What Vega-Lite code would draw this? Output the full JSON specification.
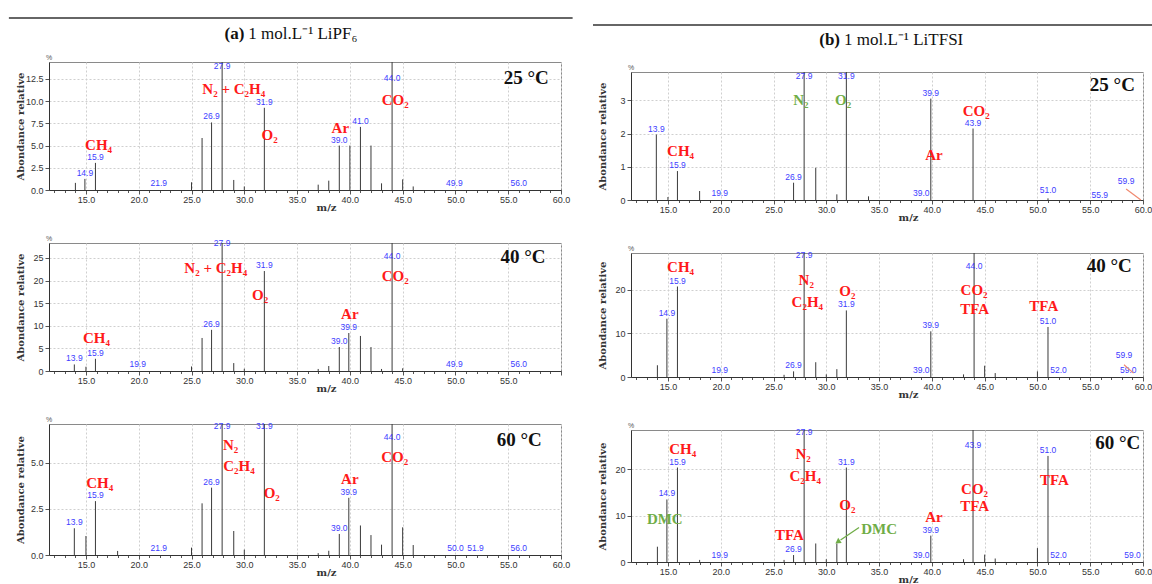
{
"$schema": "https://vega.github.io/schema/vega-lite/v6.json",
"padding": {"left": 8, "top": 5, "right": 0, "bottom": 0},
"autosize": {"type": "pad"},
"datasets": {
"h": [{"c":"a","lbl":"(a)","rest":"1 mol.L⁻¹ LiPF₆"},{"c":"b","lbl":"(b)","rest":"1 mol.L⁻¹ LiTFSI"}],
"d": [
{"p":"a25","t":"pk","mz":14,"ab":0.8},
{"p":"a25","t":"pk","mz":14.9,"ab":1.25},
{"p":"a25","t":"pk","mz":15.9,"ab":3.05},
{"p":"a25","t":"pk","mz":25,"ab":0.87},
{"p":"a25","t":"pk","mz":26,"ab":5.85},
{"p":"a25","t":"pk","mz":26.9,"ab":7.6},
{"p":"a25","t":"pk","mz":27.9,"ab":14.4},
{"p":"a25","t":"pk","mz":29,"ab":1.13},
{"p":"a25","t":"pk","mz":30,"ab":0.4},
{"p":"a25","t":"pk","mz":31.9,"ab":9.25},
{"p":"a25","t":"pk","mz":37,"ab":0.6},
{"p":"a25","t":"pk","mz":38,"ab":1.05},
{"p":"a25","t":"pk","mz":39,"ab":5.0},
{"p":"a25","t":"pk","mz":40,"ab":5.0},
{"p":"a25","t":"pk","mz":41,"ab":7.1},
{"p":"a25","t":"pk","mz":42,"ab":5.0},
{"p":"a25","t":"pk","mz":43,"ab":0.75},
{"p":"a25","t":"pk","mz":44,"ab":14.4},
{"p":"a25","t":"pk","mz":45,"ab":1.2},
{"p":"a25","t":"pk","mz":46,"ab":0.4},
{"p":"a25","t":"lb","mz":14.9,"ab":1.25,"lab":"14.9"},
{"p":"a25","t":"lb","mz":15.9,"ab":3.05,"lab":"15.9"},
{"p":"a25","t":"lb","mz":21.9,"ab":0.1,"lab":"21.9"},
{"p":"a25","t":"lb","mz":26.9,"ab":7.6,"lab":"26.9"},
{"p":"a25","t":"lb","mz":27.9,"ab":13.3,"lab":"27.9"},
{"p":"a25","t":"lb","mz":31.9,"ab":9.25,"lab":"31.9"},
{"p":"a25","t":"lb","mz":39,"ab":5.0,"lab":"39.0"},
{"p":"a25","t":"lb","mz":41,"ab":7.1,"lab":"41.0"},
{"p":"a25","t":"lb","mz":44,"ab":11.9,"lab":"44.0"},
{"p":"a25","t":"lb","mz":49.9,"ab":0.1,"lab":"49.9"},
{"p":"a25","t":"lb","mz":56,"ab":0.1,"lab":"56.0"},
{"p":"a25","t":"ann","mz":16.2,"ab":5.1,"txt":"CH₄","g":"r"},
{"p":"a25","t":"ann","mz":29.0,"ab":11.4,"txt":"N₂ + C₂H₄","g":"r"},
{"p":"a25","t":"ann","mz":32.4,"ab":6.15,"txt":"O₂","g":"r"},
{"p":"a25","t":"ann","mz":39.1,"ab":7.0,"txt":"Ar","g":"r"},
{"p":"a25","t":"ann","mz":44.3,"ab":10.1,"txt":"CO₂","g":"r"},
{"p":"a25","t":"tmp","mz":56.7,"ab":12.6,"txt":"25 °C"},
{"p":"a25","t":"pct","mz":11.5,"ab":14.4,"txt":"%"},

{"p":"a40","t":"pk","mz":13.9,"ab":1.45},
{"p":"a40","t":"pk","mz":15,"ab":0.95},
{"p":"a40","t":"pk","mz":15.9,"ab":2.7},
{"p":"a40","t":"pk","mz":25,"ab":1.0},
{"p":"a40","t":"pk","mz":26,"ab":7.3},
{"p":"a40","t":"pk","mz":26.9,"ab":9.1},
{"p":"a40","t":"pk","mz":27.9,"ab":28.3},
{"p":"a40","t":"pk","mz":29,"ab":1.75},
{"p":"a40","t":"pk","mz":30,"ab":0.5},
{"p":"a40","t":"pk","mz":31.9,"ab":22.1},
{"p":"a40","t":"pk","mz":37,"ab":0.45},
{"p":"a40","t":"pk","mz":38,"ab":1.1},
{"p":"a40","t":"pk","mz":39,"ab":5.3},
{"p":"a40","t":"pk","mz":39.9,"ab":8.4},
{"p":"a40","t":"pk","mz":41,"ab":7.75},
{"p":"a40","t":"pk","mz":42,"ab":5.3},
{"p":"a40","t":"pk","mz":43,"ab":0.45},
{"p":"a40","t":"pk","mz":44,"ab":28.3},
{"p":"a40","t":"pk","mz":45,"ab":0.6},
{"p":"a40","t":"lb","mz":13.9,"ab":1.45,"lab":"13.9"},
{"p":"a40","t":"lb","mz":15.9,"ab":2.7,"lab":"15.9"},
{"p":"a40","t":"lb","mz":19.9,"ab":0.2,"lab":"19.9"},
{"p":"a40","t":"lb","mz":26.9,"ab":9.1,"lab":"26.9"},
{"p":"a40","t":"lb","mz":27.9,"ab":26.9,"lab":"27.9"},
{"p":"a40","t":"lb","mz":31.9,"ab":22.1,"lab":"31.9"},
{"p":"a40","t":"lb","mz":39,"ab":5.3,"lab":"39.0"},
{"p":"a40","t":"lb","mz":39.9,"ab":8.4,"lab":"39.9"},
{"p":"a40","t":"lb","mz":44,"ab":24.2,"lab":"44.0"},
{"p":"a40","t":"lb","mz":49.9,"ab":0.2,"lab":"49.9"},
{"p":"a40","t":"lb","mz":56,"ab":0.2,"lab":"56.0"},
{"p":"a40","t":"ann","mz":16.0,"ab":7.2,"txt":"CH₄","g":"r"},
{"p":"a40","t":"ann","mz":27.3,"ab":22.8,"txt":"N₂ + C₂H₄","g":"r"},
{"p":"a40","t":"ann","mz":31.5,"ab":16.8,"txt":"O₂","g":"r"},
{"p":"a40","t":"ann","mz":40.0,"ab":12.5,"txt":"Ar","g":"r"},
{"p":"a40","t":"ann","mz":44.3,"ab":21.0,"txt":"CO₂","g":"r"},
{"p":"a40","t":"tmp","mz":56.4,"ab":25.3,"txt":"40 °C"},
{"p":"a40","t":"pct","mz":11.5,"ab":28.3,"txt":"%"},

{"p":"a60","t":"pk","mz":13.9,"ab":1.45},
{"p":"a60","t":"pk","mz":15,"ab":1.03},
{"p":"a60","t":"pk","mz":15.9,"ab":2.92},
{"p":"a60","t":"pk","mz":18,"ab":0.22},
{"p":"a60","t":"pk","mz":25,"ab":0.4},
{"p":"a60","t":"pk","mz":26,"ab":2.8},
{"p":"a60","t":"pk","mz":26.9,"ab":3.65},
{"p":"a60","t":"pk","mz":27.9,"ab":7.1},
{"p":"a60","t":"pk","mz":29,"ab":1.3},
{"p":"a60","t":"pk","mz":30,"ab":0.29},
{"p":"a60","t":"pk","mz":31.9,"ab":7.1},
{"p":"a60","t":"pk","mz":37,"ab":0.1},
{"p":"a60","t":"pk","mz":38,"ab":0.23},
{"p":"a60","t":"pk","mz":39,"ab":1.14},
{"p":"a60","t":"pk","mz":39.9,"ab":3.1},
{"p":"a60","t":"pk","mz":41,"ab":1.6},
{"p":"a60","t":"pk","mz":42,"ab":1.08},
{"p":"a60","t":"pk","mz":43,"ab":0.56},
{"p":"a60","t":"pk","mz":44,"ab":7.1},
{"p":"a60","t":"pk","mz":45,"ab":1.5},
{"p":"a60","t":"pk","mz":46,"ab":0.54},
{"p":"a60","t":"lb","mz":13.9,"ab":1.45,"lab":"13.9"},
{"p":"a60","t":"lb","mz":15.9,"ab":2.92,"lab":"15.9"},
{"p":"a60","t":"lb","mz":21.9,"ab":0.05,"lab":"21.9"},
{"p":"a60","t":"lb","mz":26.9,"ab":3.65,"lab":"26.9"},
{"p":"a60","t":"lb","mz":27.9,"ab":6.65,"lab":"27.9"},
{"p":"a60","t":"lb","mz":31.9,"ab":6.65,"lab":"31.9"},
{"p":"a60","t":"lb","mz":39,"ab":1.14,"lab":"39.0"},
{"p":"a60","t":"lb","mz":39.9,"ab":3.1,"lab":"39.9"},
{"p":"a60","t":"lb","mz":44,"ab":6.05,"lab":"44.0"},
{"p":"a60","t":"lb","mz":50,"ab":0.05,"lab":"50.0"},
{"p":"a60","t":"lb","mz":51.9,"ab":0.05,"lab":"51.9"},
{"p":"a60","t":"lb","mz":56,"ab":0.05,"lab":"56.0"},
{"p":"a60","t":"ann","mz":16.3,"ab":3.9,"txt":"CH₄","g":"r"},
{"p":"a60","t":"ann","mz":28.7,"ab":5.95,"txt":"N₂","g":"r"},
{"p":"a60","t":"ann","mz":29.5,"ab":4.8,"txt":"C₂H₄","g":"r"},
{"p":"a60","t":"ann","mz":32.6,"ab":3.35,"txt":"O₂","g":"r"},
{"p":"a60","t":"ann","mz":40.0,"ab":4.1,"txt":"Ar","g":"r"},
{"p":"a60","t":"ann","mz":44.25,"ab":5.3,"txt":"CO₂","g":"r"},
{"p":"a60","t":"tmp","mz":56.05,"ab":6.25,"txt":"60 °C"},
{"p":"a60","t":"pct","mz":11.5,"ab":7.1,"txt":"%"},

{"p":"b25","t":"pk","mz":13.9,"ab":1.97},
{"p":"b25","t":"pk","mz":15,"ab":0.09},
{"p":"b25","t":"pk","mz":15.9,"ab":0.87},
{"p":"b25","t":"pk","mz":18,"ab":0.27},
{"p":"b25","t":"pk","mz":26.9,"ab":0.52},
{"p":"b25","t":"pk","mz":27.9,"ab":3.85},
{"p":"b25","t":"pk","mz":29,"ab":0.97},
{"p":"b25","t":"pk","mz":31,"ab":0.17},
{"p":"b25","t":"pk","mz":31.9,"ab":3.85},
{"p":"b25","t":"pk","mz":34,"ab":0.11},
{"p":"b25","t":"pk","mz":39.9,"ab":3.05},
{"p":"b25","t":"pk","mz":43.9,"ab":2.15},
{"p":"b25","t":"pk","mz":51,"ab":0.05},
{"p":"b25","t":"lb","mz":13.9,"ab":1.97,"lab":"13.9"},
{"p":"b25","t":"lb","mz":15.9,"ab":0.87,"lab":"15.9"},
{"p":"b25","t":"lb","mz":19.9,"ab":0.03,"lab":"19.9"},
{"p":"b25","t":"lb","mz":26.9,"ab":0.52,"lab":"26.9"},
{"p":"b25","t":"lb","mz":27.9,"ab":3.55,"lab":"27.9"},
{"p":"b25","t":"lb","mz":31.9,"ab":3.55,"lab":"31.9"},
{"p":"b25","t":"lb","mz":39,"ab":0.03,"lab":"39.0"},
{"p":"b25","t":"lb","mz":39.9,"ab":3.05,"lab":"39.9"},
{"p":"b25","t":"lb","mz":43.9,"ab":2.15,"lab":"43.9"},
{"p":"b25","t":"lb","mz":51,"ab":0.12,"lab":"51.0"},
{"p":"b25","t":"lb","mz":55.9,"ab":-0.03,"lab":"55.9"},
{"p":"b25","t":"lb","mz":58.4,"ab":0.38,"lab":"59.9"},
{"p":"b25","t":"seg","mz":58.4,"ab":0.33,"mz2":59.8,"ab2":0,"g":"o"},
{"p":"b25","t":"ann","mz":16.2,"ab":1.47,"txt":"CH₄","g":"r"},
{"p":"b25","t":"ann","mz":27.6,"ab":3.02,"txt":"N₂","g":"g"},
{"p":"b25","t":"ann","mz":31.6,"ab":3.02,"txt":"O₂","g":"g"},
{"p":"b25","t":"ann","mz":40.2,"ab":1.35,"txt":"Ar","g":"r"},
{"p":"b25","t":"ann","mz":44.2,"ab":2.67,"txt":"CO₂","g":"r"},
{"p":"b25","t":"tmp","mz":57.1,"ab":3.47,"txt":"25 °C"},
{"p":"b25","t":"pct","mz":11.5,"ab":3.85,"txt":"%"},

{"p":"b40","t":"pk","mz":14,"ab":2.7},
{"p":"b40","t":"pk","mz":14.9,"ab":13.4},
{"p":"b40","t":"pk","mz":15.9,"ab":20.8},
{"p":"b40","t":"pk","mz":26,"ab":0.5},
{"p":"b40","t":"pk","mz":26.9,"ab":1.3},
{"p":"b40","t":"pk","mz":27.9,"ab":28.5},
{"p":"b40","t":"pk","mz":29,"ab":3.4},
{"p":"b40","t":"pk","mz":30,"ab":0.6},
{"p":"b40","t":"pk","mz":31,"ab":1.8},
{"p":"b40","t":"pk","mz":31.9,"ab":15.3},
{"p":"b40","t":"pk","mz":39.9,"ab":10.5},
{"p":"b40","t":"pk","mz":43,"ab":0.6},
{"p":"b40","t":"pk","mz":44,"ab":28.5},
{"p":"b40","t":"pk","mz":45,"ab":2.6},
{"p":"b40","t":"pk","mz":46,"ab":0.9},
{"p":"b40","t":"pk","mz":50,"ab":1.3},
{"p":"b40","t":"pk","mz":51,"ab":11.5},
{"p":"b40","t":"lb","mz":14.9,"ab":13.4,"lab":"14.9"},
{"p":"b40","t":"lb","mz":15.9,"ab":20.8,"lab":"15.9"},
{"p":"b40","t":"lb","mz":19.9,"ab":0.2,"lab":"19.9"},
{"p":"b40","t":"lb","mz":26.9,"ab":1.3,"lab":"26.9"},
{"p":"b40","t":"lb","mz":27.9,"ab":26.7,"lab":"27.9"},
{"p":"b40","t":"lb","mz":31.9,"ab":15.3,"lab":"31.9"},
{"p":"b40","t":"lb","mz":39,"ab":0.2,"lab":"39.0"},
{"p":"b40","t":"lb","mz":39.9,"ab":10.5,"lab":"39.9"},
{"p":"b40","t":"lb","mz":44,"ab":24.1,"lab":"44.0"},
{"p":"b40","t":"lb","mz":51,"ab":11.5,"lab":"51.0"},
{"p":"b40","t":"lb","mz":52,"ab":0.2,"lab":"52.0"},
{"p":"b40","t":"lb","mz":58.6,"ab":0.2,"lab":"59.0"},
{"p":"b40","t":"lb","mz":58.2,"ab":3.6,"lab":"59.9"},
{"p":"b40","t":"seg","mz":58.2,"ab":2.8,"mz2":59.1,"ab2":0.9,"g":"o"},
{"p":"b40","t":"ann","mz":16.2,"ab":25.3,"txt":"CH₄","g":"r"},
{"p":"b40","t":"ann","mz":28.1,"ab":22.3,"txt":"N₂","g":"r"},
{"p":"b40","t":"ann","mz":28.2,"ab":17.3,"txt":"C₂H₄","g":"r"},
{"p":"b40","t":"ann","mz":32.0,"ab":19.8,"txt":"O₂","g":"r"},
{"p":"b40","t":"ann","mz":44.0,"ab":20.1,"txt":"CO₂","g":"r"},
{"p":"b40","t":"ann","mz":44.05,"ab":15.6,"txt":"TFA","g":"r"},
{"p":"b40","t":"ann","mz":50.6,"ab":16.3,"txt":"TFA","g":"r"},
{"p":"b40","t":"tmp","mz":56.8,"ab":25.5,"txt":"40 °C"},
{"p":"b40","t":"pct","mz":11.5,"ab":28.5,"txt":"%"},

{"p":"b60","t":"pk","mz":14,"ab":3.3},
{"p":"b60","t":"pk","mz":14.9,"ab":13.5},
{"p":"b60","t":"pk","mz":15.9,"ab":20.4},
{"p":"b60","t":"pk","mz":18,"ab":0.45},
{"p":"b60","t":"pk","mz":26,"ab":0.45},
{"p":"b60","t":"pk","mz":26.9,"ab":1.5},
{"p":"b60","t":"pk","mz":27.9,"ab":28.5},
{"p":"b60","t":"pk","mz":29,"ab":4.0},
{"p":"b60","t":"pk","mz":30,"ab":0.6},
{"p":"b60","t":"pk","mz":31,"ab":4.0},
{"p":"b60","t":"pk","mz":31.9,"ab":20.4},
{"p":"b60","t":"pk","mz":39.9,"ab":5.7},
{"p":"b60","t":"pk","mz":43,"ab":0.6},
{"p":"b60","t":"pk","mz":43.9,"ab":28.5},
{"p":"b60","t":"pk","mz":45,"ab":1.6},
{"p":"b60","t":"pk","mz":46,"ab":0.75},
{"p":"b60","t":"pk","mz":50,"ab":3.0},
{"p":"b60","t":"pk","mz":51,"ab":22.9},
{"p":"b60","t":"lb","mz":14.9,"ab":13.5,"lab":"14.9"},
{"p":"b60","t":"lb","mz":15.9,"ab":20.4,"lab":"15.9"},
{"p":"b60","t":"lb","mz":19.9,"ab":0.2,"lab":"19.9"},
{"p":"b60","t":"lb","mz":26.9,"ab":1.5,"lab":"26.9"},
{"p":"b60","t":"lb","mz":27.9,"ab":26.7,"lab":"27.9"},
{"p":"b60","t":"lb","mz":31.9,"ab":20.4,"lab":"31.9"},
{"p":"b60","t":"lb","mz":39,"ab":0.2,"lab":"39.0"},
{"p":"b60","t":"lb","mz":39.9,"ab":5.7,"lab":"39.9"},
{"p":"b60","t":"lb","mz":43.9,"ab":24.0,"lab":"43.9"},
{"p":"b60","t":"lb","mz":51,"ab":22.9,"lab":"51.0"},
{"p":"b60","t":"lb","mz":52,"ab":0.2,"lab":"52.0"},
{"p":"b60","t":"lb","mz":59,"ab":0.2,"lab":"59.0"},
{"p":"b60","t":"seg","mz":33.1,"ab":7.45,"mz2":31.35,"ab2":4.75,"g":"g"},
{"p":"b60","t":"head","mz":31.15,"ab":4.45,"g":"g"},
{"p":"b60","t":"ann","mz":16.4,"ab":24.4,"txt":"CH₄","g":"r"},
{"p":"b60","t":"ann","mz":27.8,"ab":23.4,"txt":"N₂","g":"r"},
{"p":"b60","t":"ann","mz":28.0,"ab":18.6,"txt":"C₂H₄","g":"r"},
{"p":"b60","t":"ann","mz":32.0,"ab":12.2,"txt":"O₂","g":"r"},
{"p":"b60","t":"ann","mz":26.5,"ab":5.9,"txt":"TFA","g":"r"},
{"p":"b60","t":"ann","mz":14.7,"ab":9.35,"txt":"DMC","g":"g"},
{"p":"b60","t":"ann","mz":35.0,"ab":7.2,"txt":"DMC","g":"g"},
{"p":"b60","t":"ann","mz":40.2,"ab":9.7,"txt":"Ar","g":"r"},
{"p":"b60","t":"ann","mz":44.05,"ab":15.8,"txt":"CO₂","g":"r"},
{"p":"b60","t":"ann","mz":44.05,"ab":12.0,"txt":"TFA","g":"r"},
{"p":"b60","t":"ann","mz":51.6,"ab":17.7,"txt":"TFA","g":"r"},
{"p":"b60","t":"tmp","mz":57.6,"ab":25.7,"txt":"60 °C"},
{"p":"b60","t":"pct","mz":11.5,"ab":28.5,"txt":"%"}
]
},
"spacing": 18,
"hconcat": [
{"bounds": "flush", "spacing": 0, "vconcat": [
 {"width": 512, "height": 57, "view": {"stroke": null}, "data": {"name": "h"}, "transform": [{"filter": "datum.c === 'a'"}],
  "encoding": {"y": {"datum": 28, "scale": {"domain": [0, 57], "nice": false}, "axis": null}},
  "layer": [
   {"mark": {"type": "rule", "color": "#333", "strokeWidth": 1.3},
    "encoding": {"x": {"datum": 7.7, "scale": {"domain": [11.5, 60], "nice": false, "zero": false}, "axis": null}, "x2": {"datum": 61.1}, "y": {"datum": 44, "scale": {"domain": [0, 57], "nice": false}, "axis": null}}},
   {"mark": {"type": "text", "align": "right", "baseline": "middle", "font": "Liberation Serif", "fontWeight": "bold", "fontSize": 17, "color": "#111"},
    "encoding": {"x": {"datum": 30, "scale": {"domain": [11.5, 60], "nice": false, "zero": false}, "axis": null}, "text": {"field": "lbl"}}},
   {"mark": {"type": "text", "align": "left", "dx": 4, "baseline": "middle", "font": "Liberation Serif", "fontSize": 17, "color": "#111"},
    "encoding": {"x": {"datum": 30, "scale": {"domain": [11.5, 60], "nice": false, "zero": false}, "axis": null}, "text": {"field": "rest"}}}
  ]},
 {"bounds": "flush", "spacing": 53, "vconcat": [
  {"width": 512, "height": 128, "data": {"name": "d"}, "transform": [{"filter": "datum.p === 'a25'"}],
   "encoding": {"x": {"field": "mz", "type": "quantitative", "scale": {"domain": [11.5, 60], "nice": false, "zero": false},
      "axis": {"values": [12,13,14,15,16,17,18,19,20,21,22,23,24,25,26,27,28,29,30,31,32,33,34,35,36,37,38,39,40,41,42,43,44,45,46,47,48,49,50,51,52,53,54,55,56,57,58,59,60], "labelExpr": "datum.value % 5 === 0 ? format(datum.value, '.1f') : ''", "labelFlush": false, "labelOverlap": false, "labelPadding": 1, "tickSize": {"condition": {"test": "datum.value % 5 === 0", "value": 4}, "value": 2.5}, "grid": true, "gridOpacity": {"condition": {"test": "datum.value % 5 === 0", "value": 1}, "value": 0}, "title": "m/z", "titleX": 277, "titleY": 17, "titleBaseline": "middle"}},
     "y": {"field": "ab", "type": "quantitative", "scale": {"domain": [0, 14.4], "nice": false}, "axis": {"values": [0, 2.5, 5, 7.5, 10, 12.5], "format": ".1f", "tickSize": 4, "grid": true, "labelPadding": 2, "title": "Abondance relative", "titleX": -24}}},
   "layer": [
   {"transform": [{"filter": "datum.t === 'pk'"}], "mark": {"type": "rule", "color": "#3a3a3a", "strokeWidth": 1}, "encoding": {"y2": {"datum": 0}}},
   {"transform": [{"filter": "datum.t === 'lb'"}], "mark": {"type": "text", "baseline": "bottom", "dy": -1, "fontSize": 8.5, "color": "#3d3dff"}, "encoding": {"text": {"field": "lab"}}},
   {"transform": [{"filter": "datum.t === 'ann'"}], "mark": {"type": "text", "font": "Liberation Serif", "fontWeight": "bold", "fontSize": 15, "baseline": "middle"},
    "encoding": {"text": {"field": "txt"}, "color": {"field": "g", "type": "nominal", "scale": {"domain": ["r", "g", "o"], "range": ["#ff1a1a", "#70ad47", "#f08a70"]}, "legend": null}}},
   {"transform": [{"filter": "datum.t === 'tmp'"}], "mark": {"type": "text", "font": "Liberation Serif", "fontWeight": "bold", "fontSize": 19, "baseline": "middle", "color": "#111"}, "encoding": {"text": {"field": "txt"}}},
   {"transform": [{"filter": "datum.t === 'pct'"}], "mark": {"type": "text", "fontSize": 7, "baseline": "bottom", "dy": -1, "color": "#555"}, "encoding": {"text": {"field": "txt"}}}
  ]},
  {"width": 512, "height": 128, "data": {"name": "d"}, "transform": [{"filter": "datum.p === 'a40'"}],
   "encoding": {"x": {"field": "mz", "type": "quantitative", "scale": {"domain": [11.5, 60], "nice": false, "zero": false},
      "axis": {"values": [12,13,14,15,16,17,18,19,20,21,22,23,24,25,26,27,28,29,30,31,32,33,34,35,36,37,38,39,40,41,42,43,44,45,46,47,48,49,50,51,52,53,54,55,56,57,58,59,60], "labelExpr": "datum.value % 5 === 0 && datum.value < 60 ? format(datum.value, '.1f') : ''", "labelFlush": false, "labelOverlap": false, "labelPadding": 1, "tickSize": {"condition": {"test": "datum.value % 5 === 0", "value": 4}, "value": 2.5}, "grid": true, "gridOpacity": {"condition": {"test": "datum.value % 5 === 0", "value": 1}, "value": 0}, "title": "m/z", "titleX": 277, "titleY": 17, "titleBaseline": "middle"}},
     "y": {"field": "ab", "type": "quantitative", "scale": {"domain": [0, 28.3], "nice": false}, "axis": {"values": [0, 5, 10, 15, 20, 25], "format": "d", "tickSize": 4, "grid": true, "labelPadding": 2, "title": "Abondance relative", "titleX": -24}}},
   "layer": [
   {"transform": [{"filter": "datum.t === 'pk'"}], "mark": {"type": "rule", "color": "#3a3a3a", "strokeWidth": 1}, "encoding": {"y2": {"datum": 0}}},
   {"transform": [{"filter": "datum.t === 'lb'"}], "mark": {"type": "text", "baseline": "bottom", "dy": -1, "fontSize": 8.5, "color": "#3d3dff"}, "encoding": {"text": {"field": "lab"}}},
   {"transform": [{"filter": "datum.t === 'ann'"}], "mark": {"type": "text", "font": "Liberation Serif", "fontWeight": "bold", "fontSize": 15, "baseline": "middle"},
    "encoding": {"text": {"field": "txt"}, "color": {"field": "g", "type": "nominal", "scale": {"domain": ["r", "g", "o"], "range": ["#ff1a1a", "#70ad47", "#f08a70"]}, "legend": null}}},
   {"transform": [{"filter": "datum.t === 'tmp'"}], "mark": {"type": "text", "font": "Liberation Serif", "fontWeight": "bold", "fontSize": 19, "baseline": "middle", "color": "#111"}, "encoding": {"text": {"field": "txt"}}},
   {"transform": [{"filter": "datum.t === 'pct'"}], "mark": {"type": "text", "fontSize": 7, "baseline": "bottom", "dy": -1, "color": "#555"}, "encoding": {"text": {"field": "txt"}}}
  ]},
  {"width": 512, "height": 131, "data": {"name": "d"}, "transform": [{"filter": "datum.p === 'a60'"}],
   "encoding": {"x": {"field": "mz", "type": "quantitative", "scale": {"domain": [11.5, 60], "nice": false, "zero": false},
      "axis": {"values": [12,13,14,15,16,17,18,19,20,21,22,23,24,25,26,27,28,29,30,31,32,33,34,35,36,37,38,39,40,41,42,43,44,45,46,47,48,49,50,51,52,53,54,55,56,57,58,59,60], "labelExpr": "datum.value % 5 === 0 ? format(datum.value, '.1f') : ''", "labelFlush": false, "labelOverlap": false, "labelPadding": 1, "tickSize": {"condition": {"test": "datum.value % 5 === 0", "value": 4}, "value": 2.5}, "grid": true, "gridOpacity": {"condition": {"test": "datum.value % 5 === 0", "value": 1}, "value": 0}, "title": "m/z", "titleX": 277, "titleY": 17, "titleBaseline": "middle"}},
     "y": {"field": "ab", "type": "quantitative", "scale": {"domain": [0, 7.1], "nice": false}, "axis": {"values": [0, 2.5, 5], "format": ".1f", "tickSize": 4, "grid": true, "labelPadding": 2, "title": "Abondance relative", "titleX": -24}}},
   "layer": [
   {"transform": [{"filter": "datum.t === 'pk'"}], "mark": {"type": "rule", "color": "#3a3a3a", "strokeWidth": 1}, "encoding": {"y2": {"datum": 0}}},
   {"transform": [{"filter": "datum.t === 'lb'"}], "mark": {"type": "text", "baseline": "bottom", "dy": -1, "fontSize": 8.5, "color": "#3d3dff"}, "encoding": {"text": {"field": "lab"}}},
   {"transform": [{"filter": "datum.t === 'ann'"}], "mark": {"type": "text", "font": "Liberation Serif", "fontWeight": "bold", "fontSize": 15, "baseline": "middle"},
    "encoding": {"text": {"field": "txt"}, "color": {"field": "g", "type": "nominal", "scale": {"domain": ["r", "g", "o"], "range": ["#ff1a1a", "#70ad47", "#f08a70"]}, "legend": null}}},
   {"transform": [{"filter": "datum.t === 'tmp'"}], "mark": {"type": "text", "font": "Liberation Serif", "fontWeight": "bold", "fontSize": 19, "baseline": "middle", "color": "#111"}, "encoding": {"text": {"field": "txt"}}},
   {"transform": [{"filter": "datum.t === 'pct'"}], "mark": {"type": "text", "fontSize": 7, "baseline": "bottom", "dy": -1, "color": "#555"}, "encoding": {"text": {"field": "txt"}}}
  ]}
 ]}
]},
{"bounds": "flush", "spacing": 0, "vconcat": [
 {"width": 512, "height": 67, "view": {"stroke": null}, "data": {"name": "h"}, "transform": [{"filter": "datum.c === 'b'"}],
  "encoding": {"y": {"datum": 32, "scale": {"domain": [0, 67], "nice": false}, "axis": null}},
  "layer": [
   {"mark": {"type": "rule", "color": "#333", "strokeWidth": 1.3},
    "encoding": {"x": {"datum": 7.9, "scale": {"domain": [11.5, 60], "nice": false, "zero": false}, "axis": null}, "x2": {"datum": 60.95}, "y": {"datum": 47, "scale": {"domain": [0, 67], "nice": false}, "axis": null}}},
   {"mark": {"type": "text", "align": "right", "baseline": "middle", "font": "Liberation Serif", "fontWeight": "bold", "fontSize": 17, "color": "#111"},
    "encoding": {"x": {"datum": 31.3, "scale": {"domain": [11.5, 60], "nice": false, "zero": false}, "axis": null}, "text": {"field": "lbl"}}},
   {"mark": {"type": "text", "align": "left", "dx": 4, "baseline": "middle", "font": "Liberation Serif", "fontSize": 17, "color": "#111"},
    "encoding": {"x": {"datum": 31.3, "scale": {"domain": [11.5, 60], "nice": false, "zero": false}, "axis": null}, "text": {"field": "rest"}}}
  ]},
 {"bounds": "flush", "spacing": 53, "vconcat": [
  {"width": 512, "height": 128, "data": {"name": "d"}, "transform": [{"filter": "datum.p === 'b25'"}],
   "encoding": {"x": {"field": "mz", "type": "quantitative", "scale": {"domain": [11.5, 60], "nice": false, "zero": false},
      "axis": {"values": [12,13,14,15,16,17,18,19,20,21,22,23,24,25,26,27,28,29,30,31,32,33,34,35,36,37,38,39,40,41,42,43,44,45,46,47,48,49,50,51,52,53,54,55,56,57,58,59,60], "labelExpr": "datum.value % 5 === 0 ? format(datum.value, '.1f') : ''", "labelFlush": false, "labelOverlap": false, "labelPadding": 1, "tickSize": {"condition": {"test": "datum.value % 5 === 0", "value": 4}, "value": 2.5}, "grid": true, "gridOpacity": {"condition": {"test": "datum.value % 5 === 0", "value": 1}, "value": 0}, "title": "m/z", "titleX": 277, "titleY": 17, "titleBaseline": "middle"}},
     "y": {"field": "ab", "type": "quantitative", "scale": {"domain": [0, 3.85], "nice": false}, "axis": {"values": [0, 1, 2, 3], "format": "d", "tickSize": 4, "grid": true, "labelPadding": 2, "title": "Abondance relative", "titleX": -24}}},
   "layer": [
   {"transform": [{"filter": "datum.t === 'pk'"}], "mark": {"type": "rule", "color": "#3a3a3a", "strokeWidth": 1}, "encoding": {"y2": {"datum": 0}}},
   {"transform": [{"filter": "datum.t === 'lb'"}], "mark": {"type": "text", "baseline": "bottom", "dy": -1, "fontSize": 8.5, "color": "#3d3dff"}, "encoding": {"text": {"field": "lab"}}},
   {"transform": [{"filter": "datum.t === 'seg'"}], "mark": {"type": "rule", "strokeWidth": 1.2},
    "encoding": {"x2": {"field": "mz2"}, "y2": {"field": "ab2"}, "color": {"field": "g", "type": "nominal", "scale": {"domain": ["r", "g", "o"], "range": ["#ff1a1a", "#70ad47", "#f08a70"]}, "legend": null}}},
   {"transform": [{"filter": "datum.t === 'ann'"}], "mark": {"type": "text", "font": "Liberation Serif", "fontWeight": "bold", "fontSize": 15, "baseline": "middle"},
    "encoding": {"text": {"field": "txt"}, "color": {"field": "g", "type": "nominal", "scale": {"domain": ["r", "g", "o"], "range": ["#ff1a1a", "#70ad47", "#f08a70"]}, "legend": null}}},
   {"transform": [{"filter": "datum.t === 'tmp'"}], "mark": {"type": "text", "font": "Liberation Serif", "fontWeight": "bold", "fontSize": 19, "baseline": "middle", "color": "#111"}, "encoding": {"text": {"field": "txt"}}},
   {"transform": [{"filter": "datum.t === 'pct'"}], "mark": {"type": "text", "fontSize": 7, "baseline": "bottom", "dy": -1, "color": "#555"}, "encoding": {"text": {"field": "txt"}}}
  ]},
  {"width": 512, "height": 124, "data": {"name": "d"}, "transform": [{"filter": "datum.p === 'b40'"}],
   "encoding": {"x": {"field": "mz", "type": "quantitative", "scale": {"domain": [11.5, 60], "nice": false, "zero": false},
      "axis": {"values": [12,13,14,15,16,17,18,19,20,21,22,23,24,25,26,27,28,29,30,31,32,33,34,35,36,37,38,39,40,41,42,43,44,45,46,47,48,49,50,51,52,53,54,55,56,57,58,59,60], "labelExpr": "datum.value % 5 === 0 ? format(datum.value, '.1f') : ''", "labelFlush": false, "labelOverlap": false, "labelPadding": 1, "tickSize": {"condition": {"test": "datum.value % 5 === 0", "value": 4}, "value": 2.5}, "grid": true, "gridOpacity": {"condition": {"test": "datum.value % 5 === 0", "value": 1}, "value": 0}, "title": "m/z", "titleX": 277, "titleY": 17, "titleBaseline": "middle"}},
     "y": {"field": "ab", "type": "quantitative", "scale": {"domain": [0, 28.5], "nice": false}, "axis": {"values": [0, 10, 20], "format": "d", "tickSize": 4, "grid": true, "labelPadding": 2, "title": "Abondance relative", "titleX": -24}}},
   "layer": [
   {"transform": [{"filter": "datum.t === 'pk'"}], "mark": {"type": "rule", "color": "#3a3a3a", "strokeWidth": 1}, "encoding": {"y2": {"datum": 0}}},
   {"transform": [{"filter": "datum.t === 'lb'"}], "mark": {"type": "text", "baseline": "bottom", "dy": -1, "fontSize": 8.5, "color": "#3d3dff"}, "encoding": {"text": {"field": "lab"}}},
   {"transform": [{"filter": "datum.t === 'seg'"}], "mark": {"type": "rule", "strokeWidth": 1.2},
    "encoding": {"x2": {"field": "mz2"}, "y2": {"field": "ab2"}, "color": {"field": "g", "type": "nominal", "scale": {"domain": ["r", "g", "o"], "range": ["#ff1a1a", "#70ad47", "#f08a70"]}, "legend": null}}},
   {"transform": [{"filter": "datum.t === 'ann'"}], "mark": {"type": "text", "font": "Liberation Serif", "fontWeight": "bold", "fontSize": 15, "baseline": "middle"},
    "encoding": {"text": {"field": "txt"}, "color": {"field": "g", "type": "nominal", "scale": {"domain": ["r", "g", "o"], "range": ["#ff1a1a", "#70ad47", "#f08a70"]}, "legend": null}}},
   {"transform": [{"filter": "datum.t === 'tmp'"}], "mark": {"type": "text", "font": "Liberation Serif", "fontWeight": "bold", "fontSize": 19, "baseline": "middle", "color": "#111"}, "encoding": {"text": {"field": "txt"}}},
   {"transform": [{"filter": "datum.t === 'pct'"}], "mark": {"type": "text", "fontSize": 7, "baseline": "bottom", "dy": -1, "color": "#555"}, "encoding": {"text": {"field": "txt"}}}
  ]},
  {"width": 512, "height": 132, "data": {"name": "d"}, "transform": [{"filter": "datum.p === 'b60'"}],
   "encoding": {"x": {"field": "mz", "type": "quantitative", "scale": {"domain": [11.5, 60], "nice": false, "zero": false},
      "axis": {"values": [12,13,14,15,16,17,18,19,20,21,22,23,24,25,26,27,28,29,30,31,32,33,34,35,36,37,38,39,40,41,42,43,44,45,46,47,48,49,50,51,52,53,54,55,56,57,58,59,60], "labelExpr": "datum.value % 5 === 0 ? format(datum.value, '.1f') : ''", "labelFlush": false, "labelOverlap": false, "labelPadding": 1, "tickSize": {"condition": {"test": "datum.value % 5 === 0", "value": 4}, "value": 2.5}, "grid": true, "gridOpacity": {"condition": {"test": "datum.value % 5 === 0", "value": 1}, "value": 0}, "title": "m/z", "titleX": 277, "titleY": 17, "titleBaseline": "middle"}},
     "y": {"field": "ab", "type": "quantitative", "scale": {"domain": [0, 28.5], "nice": false}, "axis": {"values": [0, 10, 20], "format": "d", "tickSize": 4, "grid": true, "labelPadding": 2, "title": "Abondance relative", "titleX": -24}}},
   "layer": [
   {"transform": [{"filter": "datum.t === 'pk'"}], "mark": {"type": "rule", "color": "#3a3a3a", "strokeWidth": 1}, "encoding": {"y2": {"datum": 0}}},
   {"transform": [{"filter": "datum.t === 'lb'"}], "mark": {"type": "text", "baseline": "bottom", "dy": -1, "fontSize": 8.5, "color": "#3d3dff"}, "encoding": {"text": {"field": "lab"}}},
   {"transform": [{"filter": "datum.t === 'seg'"}], "mark": {"type": "rule", "strokeWidth": 1.3},
    "encoding": {"x2": {"field": "mz2"}, "y2": {"field": "ab2"}, "color": {"field": "g", "type": "nominal", "scale": {"domain": ["r", "g", "o"], "range": ["#ff1a1a", "#70ad47", "#f08a70"]}, "legend": null}}},
   {"transform": [{"filter": "datum.t === 'head'"}], "mark": {"type": "point", "shape": "triangle", "angle": 236, "size": 40, "filled": true, "opacity": 1},
    "encoding": {"color": {"field": "g", "type": "nominal", "scale": {"domain": ["r", "g", "o"], "range": ["#ff1a1a", "#70ad47", "#f08a70"]}, "legend": null}}},
   {"transform": [{"filter": "datum.t === 'ann'"}], "mark": {"type": "text", "font": "Liberation Serif", "fontWeight": "bold", "fontSize": 15, "baseline": "middle"},
    "encoding": {"text": {"field": "txt"}, "color": {"field": "g", "type": "nominal", "scale": {"domain": ["r", "g", "o"], "range": ["#ff1a1a", "#70ad47", "#f08a70"]}, "legend": null}}},
   {"transform": [{"filter": "datum.t === 'tmp'"}], "mark": {"type": "text", "font": "Liberation Serif", "fontWeight": "bold", "fontSize": 19, "baseline": "middle", "color": "#111"}, "encoding": {"text": {"field": "txt"}}},
   {"transform": [{"filter": "datum.t === 'pct'"}], "mark": {"type": "text", "fontSize": 7, "baseline": "bottom", "dy": -1, "color": "#555"}, "encoding": {"text": {"field": "txt"}}}
  ]}
 ]}
]}
],
"config": {
 "font": "Liberation Sans",
 "view": {"stroke": "#8a8a8a", "strokeWidth": 1},
 "axis": {"labelFont": "Liberation Sans", "labelFontSize": 9, "labelColor": "#333", "tickColor": "#555", "domainColor": "#333", "gridDash": [2, 2], "gridColor": "#cfcfcf", "titleFont": "DejaVu Serif", "titleFontSize": 10, "titleFontWeight": "bold", "titleColor": "#333"}
}
}
